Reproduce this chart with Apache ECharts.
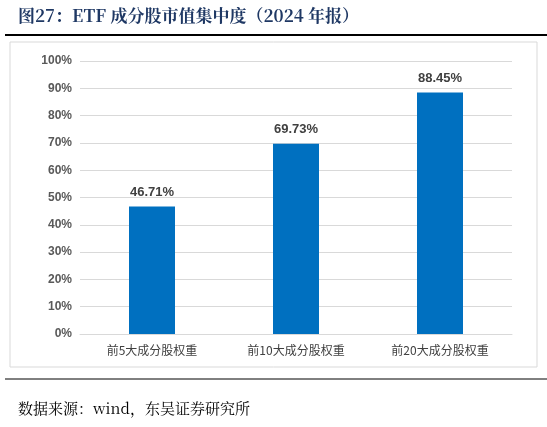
<!DOCTYPE html><html><head><meta charset="utf-8"><script src="https://cdn.jsdelivr.net/npm/echarts@6/dist/echarts.min.js"></script>
<style>body{margin:0}#c{width:547px;height:427px}</style></head><body><div id="c"></div><script>
const categories=['前5大成分股权重','前10大成分股权重','前20大成分股权重'];
const values=[46.71,69.73,88.45];
const c=echarts.init(document.getElementById('c'));
c.setOption({
animation:false,
graphic:[
{type:'text',left:18,top:7,style:{text:'图27：ETF 成分股市值集中度（2024 年报）',font:'bold 17px "Noto Serif CJK SC","Noto Sans CJK SC",serif',fill:'#1F3864'}},
{type:'line',shape:{x1:5,y1:35,x2:547,y2:35},style:{stroke:'#000',lineWidth:2}},
{type:'rect',shape:{x:10,y:42,width:527,height:325},style:{fill:'none',stroke:'#d9d9d9',lineWidth:1}},
{type:'line',shape:{x1:5,y1:379,x2:547,y2:379},style:{stroke:'#000',lineWidth:1}},
{type:'text',left:18,top:401,style:{text:'数据来源：wind，东吴证券研究所',font:'15px "Noto Serif CJK SC","Noto Sans CJK SC",serif',fill:'#000'}}
],
grid:{left:80,right:35,top:61,bottom:93},
xAxis:{type:'category',data:categories,axisLine:{lineStyle:{color:'#d9d9d9'}},axisTick:{show:false},axisLabel:{color:'#404040',fontSize:12,margin:10,fontFamily:'"Noto Sans CJK SC"'}},
yAxis:{type:'value',min:0,max:100,interval:10,axisLabel:{formatter:'{value}%',color:'#595959',fontSize:12,fontWeight:'bold',fontFamily:'Arial, "Liberation Sans"'},splitLine:{lineStyle:{color:'#d9d9d9'}},axisLine:{show:false}},
series:[{type:'bar',data:values,barWidth:46,itemStyle:{color:'#0070C0'},label:{show:true,position:'top',formatter:p=>p.value.toFixed(2)+'%',color:'#404040',fontSize:13,fontWeight:'bold',fontFamily:'Arial, "Liberation Sans"',distance:8}}]
});
</script></body></html>
